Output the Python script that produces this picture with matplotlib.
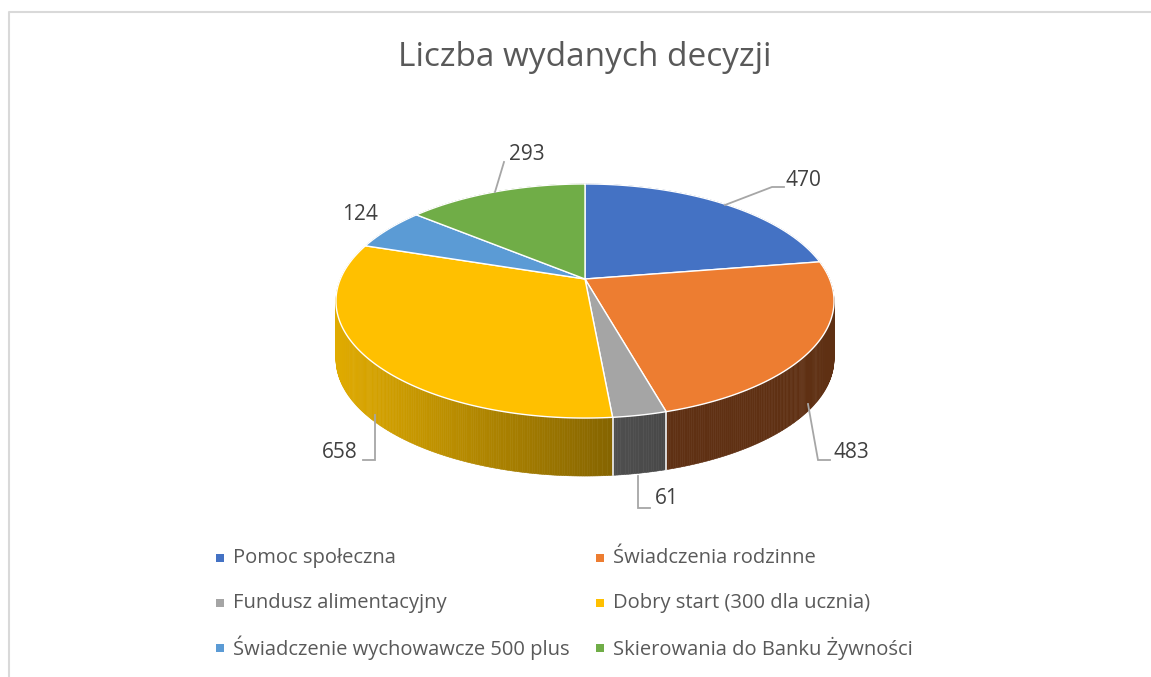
"""
3D-looking pie chart with a perspective top face and a shaded side wall.
"""

import matplotlib
matplotlib.use('Agg')
import matplotlib.pyplot as plt
from matplotlib.colors import to_rgb
from matplotlib.patches import Polygon, Rectangle
import numpy as np

title = 'Liczba wydanych decyzji'
categories = ['Pomoc społeczna', 'Świadczenia rodzinne', 'Fundusz alimentacyjny',
              'Dobry start (300 dla ucznia)', 'Świadczenie wychowawcze 500 plus',
              'Skierowania do Banku Żywności']
values = [470, 483, 61, 658, 124, 293]
colors = ['#4472c4', '#ed7d31', '#a5a5a5', '#ffc000', '#5b9bd5', '#70ad47']

# Pie geometry in pixels
CX, CY = 585, 279
BX, BY = 244.6, 112.9
PERSP = 0.188
DEPTH = 58

# Side wall colours: left and right end of each gradient
wall_left = ['#2f4a80', '#5f3013', '#4f4f4f', '#e0ab00', '#3a6a96', '#47702c']
wall_right = ['#2f4a80', '#5f3013', '#484848', '#856400', '#3a6a96', '#47702c']

# Label anchor and leader line bend points, None where there is no leader
label_pos = [(786, 181), (834, 452), (655, 499), (358, 453), (342, 215), (509, 154)]
leaders = [[(725, 205), (772, 187), (784, 187)],
           [(808, 404), (818, 460), (830, 460)],
           [(638, 476), (638, 508), (650, 508)],
           [(375, 415), (375, 460), (363, 460)],
           None,
           [(495, 192), (504, 162)]]
label_ha = ['left', 'left', 'left', 'right', 'left', 'left']

legend_x = [216, 596]
legend_y = [558, 603, 648]


def project(theta):
    """Maps clockwise angles from the top of the disc to pixel coordinates."""
    u, v = np.sin(theta), -np.cos(theta)
    w = 1 - PERSP * v
    return CX + BX * u / w, CY + BY * v / w


plt.rcParams['font.family'] = ['Open Sans', 'DejaVu Sans']
fig = plt.figure(figsize=(11.51, 6.77), dpi=100)
ax = fig.add_axes([0, 0, 1, 1])
ax.set_xlim(0, 1151)
ax.set_ylim(677, 0)
ax.axis('off')

# Chart frame
ax.plot([9, 9, 1151], [677, 12, 12], color='#d9d9d9', linewidth=1.5, zorder=1)

edges = np.cumsum([0] + values) / sum(values) * 2 * np.pi

# Side wall, back to front, so that the top face hides the far part
x_all, _ = project(np.linspace(0, 2 * np.pi, 721))
for i in range(len(values)):
    thetas = np.linspace(edges[i], edges[i + 1], max(int((edges[i + 1] - edges[i]) * 120), 2))
    xs, ys = project(thetas)
    x0, x1 = xs.min(), xs.max()
    c0, c1 = np.array(to_rgb(wall_left[i])), np.array(to_rgb(wall_right[i]))
    for k in range(len(thetas) - 1):
        t = ((xs[k] + xs[k + 1]) / 2 - x0) / max(x1 - x0, 1)
        col = c0 + (c1 - c0) * t
        strip = [(xs[k], ys[k]), (xs[k + 1], ys[k + 1]),
                 (xs[k + 1], ys[k + 1] + DEPTH), (xs[k], ys[k] + DEPTH)]
        ax.add_patch(Polygon(strip, closed=True, facecolor=col, edgecolor=col,
                             linewidth=0.4, zorder=2))

# White seams on the visible wall
for angle in edges:
    ex, ey = project(angle)
    if ey > CY + 60:
        ax.plot([ex, ex], [ey, ey + DEPTH], color='#f2f2f2', linewidth=1.2, zorder=3)

# Top face
for i in range(len(values)):
    thetas = np.linspace(edges[i], edges[i + 1], 200)
    xs, ys = project(thetas)
    pts = np.column_stack([np.r_[CX, xs], np.r_[CY, ys]])
    ax.add_patch(Polygon(pts, closed=True, facecolor=colors[i], edgecolor='white',
                         linewidth=1.0, joinstyle='round', zorder=4))

# Value labels and leader lines
for i, val in enumerate(values):
    ax.text(label_pos[i][0], label_pos[i][1], str(val), fontsize=15, color='#404040',
            ha=label_ha[i], va='center', zorder=6)
    if leaders[i]:
        lx, ly = zip(*leaders[i])
        ax.plot(lx, ly, color='#a6a6a6', linewidth=1.3, zorder=5, solid_joinstyle='miter')

ax.text(585, 57, title, fontsize=24, color='#595959', ha='center', va='center')

# Legend, two columns by three rows
for i, name in enumerate(categories):
    lx = legend_x[i % 2]
    ly = legend_y[i // 2]
    ax.add_patch(Rectangle((lx, ly - 4), 8, 8, facecolor=colors[i], edgecolor='none'))
    ax.text(lx + 17, ly, name, fontsize=14.5, color='#595959', ha='left', va='center')

fig.savefig('out.png', dpi=100)
